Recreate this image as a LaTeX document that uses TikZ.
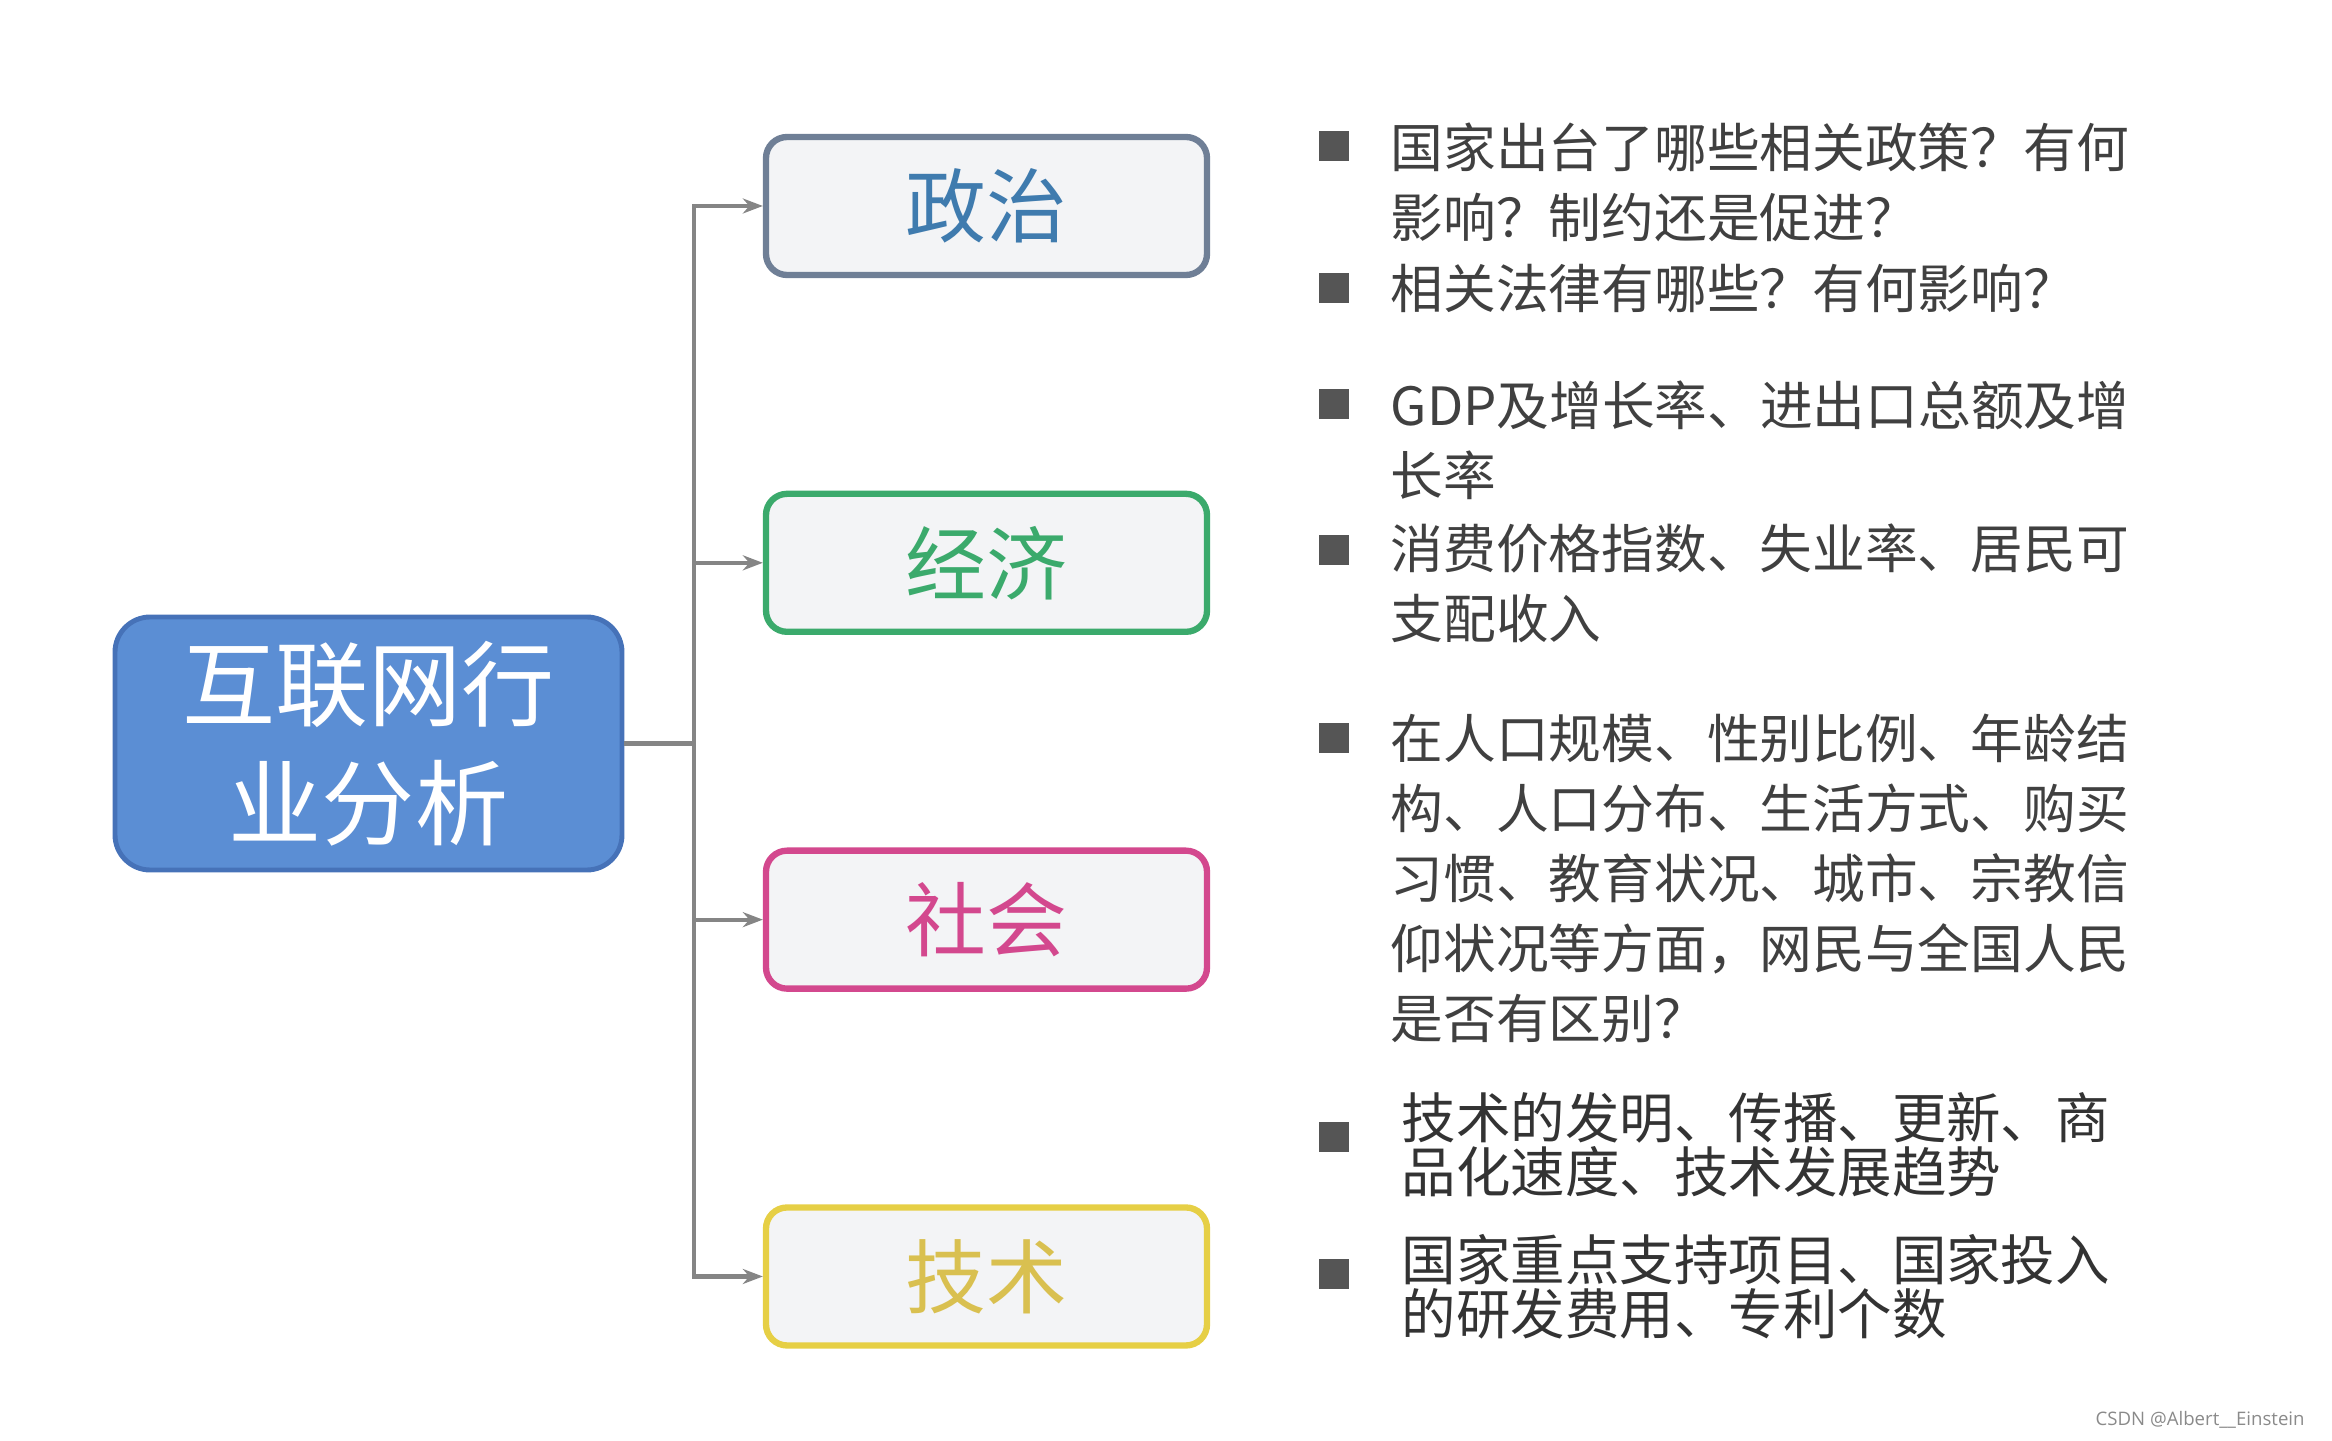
\documentclass[tikz,border=0pt]{standalone}
\usepackage{fontspec}
\usepackage{xcolor}
\usepackage{tikz}
\usetikzlibrary{positioning,arrows.meta}
\newfontfamily\cjk{Noto Sans CJK SC}
\newfontfamily\wmfont{Open Sans}
\definecolor{rootblue}{HTML}{5B8ED4}
\definecolor{rootedge}{HTML}{4672B8}
\definecolor{boxgray}{HTML}{F3F4F6}
\definecolor{poledge}{HTML}{6F7F96}
\definecolor{poltext}{HTML}{3F7BAE}
\definecolor{ecogreen}{HTML}{3BAA6C}
\definecolor{socpink}{HTML}{D3488E}
\definecolor{techyellow}{HTML}{E6CF45}
\definecolor{techtext}{HTML}{D9C050}
\definecolor{linegray}{HTML}{858585}
\definecolor{notegray}{HTML}{404040}
\definecolor{dotgray}{HTML}{555555}
\definecolor{wmgray}{HTML}{8A8A8A}
\begin{document}
\begin{tikzpicture}[
    node distance=2.125cm,
    root/.style={
        rectangle,
        rounded corners=10pt,
        minimum width=5.07cm,
        minimum height=2.53cm,
        align=center,
        draw=rootedge,
        fill=rootblue,
        line width=1.4pt,
        text=white,
        font=\cjk\fontsize{26.5pt}{34pt}\selectfont
    },
    branch/.style={
        rectangle,
        rounded corners=6pt,
        minimum width=4.41cm,
        minimum height=1.38cm,
        fill=boxgray,
        line width=1.8pt,
        font=\cjk\fontsize{23pt}{28pt}\selectfont
    },
    note/.style={
        anchor=west,
        align=left,
        inner sep=0pt,
        text=notegray,
        font=\cjk\fontsize{15pt}{19.9pt}\selectfont
    },
    technote/.style={
        note,
        text=black!80,
        font=\cjk\fontsize{15.5pt}{15.4pt}\selectfont
    },
    dot/.style={
        rectangle,
        fill=dotgray,
        minimum size=0.3cm,
        inner sep=0pt
    },
    line/.style={
        -{Stealth[length=2mm]},
        draw=linegray,
        line width=1.2pt
    }
]
\useasboundingbox (0,0) rectangle (23.32,14.40);

\node[root] (R) at (3.685,6.965) {互联网行\\业分析};
\node[branch,draw=poledge,text=poltext] (A) at (9.865,12.34) {政治};
\node[branch,draw=ecogreen,text=ecogreen,below=of A] (B) {经济};
\node[branch,draw=socpink,text=socpink,below=of B] (C) {社会};
\node[branch,draw=techyellow,text=techtext,below=of C] (D) {技术};

% notes
\node[note] (A1) at (13.90,12.575) {国家出台了哪些相关政策？有何\\影响？制约还是促进？};
\node[dot] (A1d) at (13.34,12.94) {};
\node[note] (A2) at (13.90,11.52) {相关法律有哪些？有何影响？};
\node[dot] (A2d) at (13.34,11.52) {};

\node[note] (B1) at (13.90,10.00) {GDP及增长率、进出口总额及增\\长率};
\node[dot] (B1d) at (13.34,10.36) {};
\node[note] (B2) at (13.90,8.565) {消费价格指数、失业率、居民可\\支配收入};
\node[dot] (B2d) at (13.34,8.90) {};

\node[note] (C1) at (13.90,5.615) {在人口规模、性别比例、年龄结\\构、人口分布、生活方式、购买\\习惯、教育状况、城市、宗教信\\仰状况等方面，网民与全国人民\\是否有区别？};
\node[dot] (C1d) at (13.34,7.02) {};

\node[technote] (D1) at (14.01,2.95) {技术的发明、传播、更新、商\\品化速度、技术发展趋势};
\node[dot] (D1d) at (13.34,3.03) {};
\node[technote] (D2) at (14.01,1.535) {国家重点支持项目、国家投入\\的研发费用、专利个数};
\node[dot] (D2d) at (13.34,1.66) {};

\node[anchor=east,text=wmgray,font=\wmfont\fontsize{5.3pt}{6pt}\selectfont] (W) at (23.17,0.20) {CSDN @Albert\_\_Einstein};

\coordinate (T) at (6.94,6.965);
\draw[draw=linegray,line width=1.2pt] (R.east) -- (T);
\draw[line] (T) |- (A.west);
\draw[line] (T) |- (B.west);
\draw[line] (T) |- (C.west);
\draw[line] (T) |- (D.west);

\end{tikzpicture}
\end{document}
